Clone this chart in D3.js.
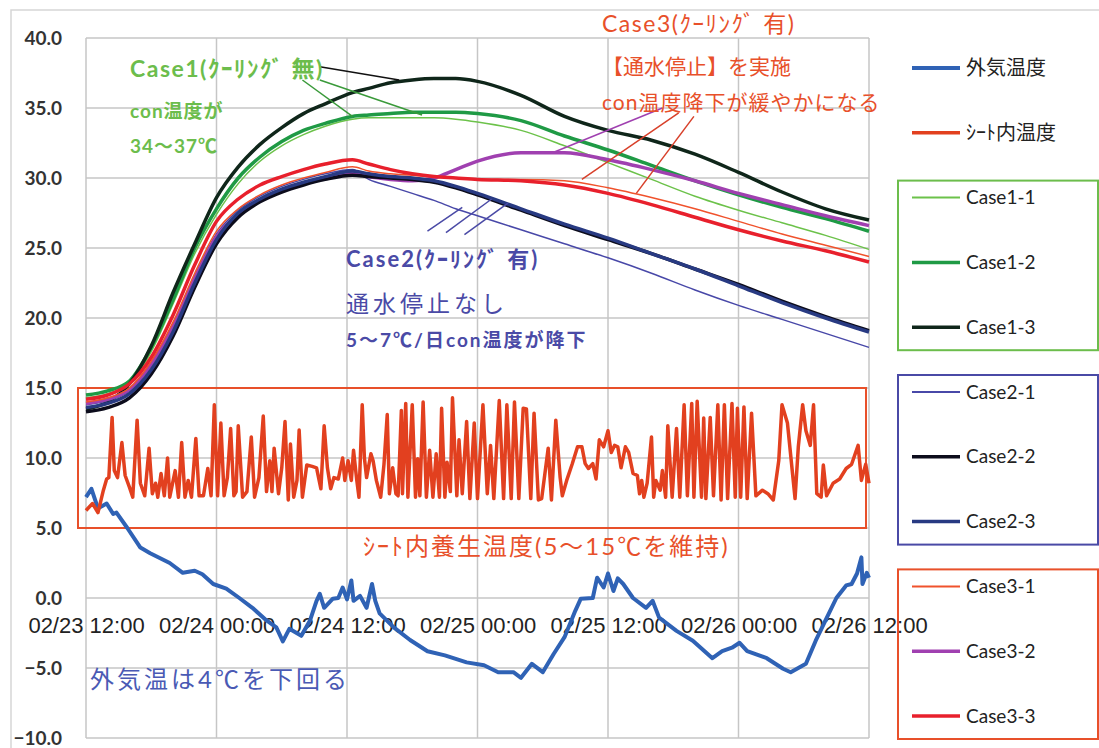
<!DOCTYPE html>
<html>
<head>
<meta charset="utf-8">
<script src="https://cdn.jsdelivr.net/npm/d3@7"></script>
<style>
  body { margin: 0; background: #fff; }
  svg { display: block; }
</style>
</head>
<body>
<svg id="chart" width="1099" height="748"></svg>
<script>
// ---- data (hours since 02/23 12:00) ----
const xTickHours = [0, 12, 24, 36, 48, 60, 72];
const xTickLabels = ["02/23 12:00", "02/24 00:00", "02/24 12:00", "02/25 00:00", "02/25 12:00", "02/26 00:00", "02/26 12:00"];
const yTicks = [-10, -5, 0, 5, 10, 15, 20, 25, 30, 35, 40];

// 外気温度
const outsideHours = [0, 0.5, 1.1, 1.9, 2.5, 2.8, 3.8, 5.0, 5.9, 7.7, 8.9, 10.0, 10.7, 11.7, 12.9, 14.1, 15.3, 16.6, 17.5, 18.1, 18.7, 19.8, 20.6, 21.2, 21.5, 21.9, 22.7, 23.2, 23.6, 24.0, 24.4, 24.6, 25.2, 25.8, 26.3, 26.6, 27.0, 28.3, 29.8, 31.4, 33.0, 35.0, 36.6, 37.9, 39.3, 40.0, 41.0, 42.0, 43.0, 44.0, 45.0, 45.5, 46.6, 47.0, 47.6, 48.0, 48.5, 48.9, 49.4, 50.3, 51.5, 52.1, 52.7, 54.3, 55.8, 57.6, 58.5, 59.4, 60.1, 60.8, 62.6, 64.1, 64.8, 66.2, 67.1, 68.0, 69.0, 69.9, 70.4, 70.9, 71.3, 71.4, 71.8, 72.0];
const outsideTemp = [7.2, 7.8, 6.4, 6.75, 6.0, 6.1, 5.0, 3.6, 3.2, 2.5, 1.8, 1.95, 1.7, 1.0, 0.67, 0.0, -0.7, -1.6, -2.1, -3.1, -2.2, -2.7, -1.6, -0.2, 0.3, -0.7, -0.05, 0.0, 0.75, -0.1, 1.25, -0.2, 0.15, -0.7, 1.0, -0.2, -1.1, -2.1, -3.0, -3.8, -4.1, -4.6, -4.8, -5.3, -5.3, -5.7, -4.7, -5.3, -4.0, -2.8, -0.9, -0.05, 0.0, 1.45, 0.75, 1.75, 0.5, 1.4, 1.0, 0.0, -0.7, -0.2, -1.4, -2.35, -3.05, -4.3, -3.8, -3.55, -3.2, -3.8, -4.3, -5.05, -5.3, -4.7, -3.05, -1.6, 0.0, 0.9, 1.0, 1.75, 2.9, 1.0, 1.8, 1.45];

// シート内温度
const sheetHours = [0, 0.6, 1.1, 1.6, 1.9, 2.1, 2.4, 2.6, 2.9, 3.3, 3.6, 4.0, 4.3, 4.7, 5.0, 5.4, 5.8, 6.1, 6.4, 6.6, 6.9, 7.2, 7.5, 7.7, 8.2, 8.5, 8.8, 9.1, 9.4, 9.7, 10.1, 10.4, 10.8, 11.2, 11.5, 11.8, 12.1, 12.4, 12.7, 13.0, 13.3, 13.6, 13.8, 14.0, 14.4, 14.8, 15.2, 15.5, 15.9, 16.3, 16.6, 16.9, 17.1, 17.3, 17.7, 18.0, 18.3, 18.6, 18.8, 19.1, 19.4, 19.6, 19.9, 20.3, 20.8, 21.2, 21.6, 21.9, 22.2, 22.5, 22.8, 23.2, 23.6, 23.8, 24.1, 24.4, 24.6, 24.9, 25.1, 25.4, 25.6, 25.8, 26.2, 26.4, 26.7, 27.1, 27.4, 27.7, 27.9, 28.2, 28.5, 28.7, 29.0, 29.1, 29.4, 29.6, 30.0, 30.3, 30.5, 30.7, 31.0, 31.3, 31.6, 31.9, 32.2, 32.5, 32.7, 33.0, 33.2, 33.5, 33.7, 34.1, 34.3, 34.6, 35.0, 35.3, 35.7, 36.0, 36.5, 36.9, 37.2, 37.5, 38.0, 38.4, 38.7, 39.1, 39.4, 39.8, 40.2, 40.5, 40.9, 41.2, 41.6, 41.9, 42.5, 42.8, 43.2, 43.6, 43.8, 44.2, 44.7, 45.2, 45.6, 45.9, 46.2, 46.6, 46.9, 47.2, 47.6, 48.0, 48.3, 48.6, 48.9, 49.2, 49.6, 49.9, 50.3, 50.7, 50.9, 51.1, 51.3, 51.6, 52.0, 52.2, 52.4, 52.8, 53.0, 53.3, 53.5, 53.9, 54.3, 54.6, 55.0, 55.3, 55.7, 55.9, 56.2, 56.6, 56.8, 57.0, 57.4, 57.7, 58.1, 58.4, 58.7, 59.0, 59.4, 59.7, 59.9, 60.2, 60.5, 60.8, 61.2, 61.6, 62.2, 62.7, 63.2, 63.7, 64.0, 64.5, 65.2, 65.5, 65.9, 66.2, 66.6, 66.9, 67.2, 67.6, 67.8, 68.1, 68.7, 69.3, 69.9, 70.4, 71.0, 71.3, 71.7, 72.0];
const sheetTemp = [6.25, 6.75, 6.1, 7.7, 8.5, 8.6, 12.9, 9.1, 8.6, 11.1, 8.75, 7.9, 7.2, 12.7, 8.2, 7.3, 10.7, 7.45, 8.2, 7.2, 8.9, 7.3, 10.0, 7.2, 9.1, 7.2, 11.1, 7.2, 8.4, 7.2, 11.4, 7.3, 7.3, 9.25, 7.3, 13.8, 7.3, 12.5, 7.3, 8.6, 12.1, 7.3, 7.6, 12.3, 7.2, 7.6, 11.5, 7.2, 8.6, 13.0, 7.6, 9.8, 7.6, 10.7, 7.45, 9.3, 12.6, 7.0, 11.0, 7.2, 8.4, 12.0, 7.2, 9.5, 9.4, 9.3, 7.8, 12.3, 9.3, 7.8, 8.6, 8.5, 10.0, 8.4, 9.8, 8.4, 10.55, 8.4, 7.2, 13.8, 10.0, 8.6, 10.3, 9.8, 8.4, 7.2, 9.55, 13.1, 7.45, 9.3, 7.45, 7.3, 13.4, 7.45, 13.9, 7.2, 13.8, 7.2, 9.95, 7.3, 14.0, 7.2, 10.55, 7.2, 10.3, 7.2, 13.55, 7.2, 9.7, 7.6, 14.3, 7.3, 11.3, 7.45, 12.6, 7.1, 12.5, 7.1, 13.8, 7.45, 10.9, 7.1, 14.1, 7.1, 13.8, 7.1, 14.0, 7.1, 13.55, 13.5, 7.1, 13.2, 7.0, 7.1, 10.7, 7.0, 12.7, 8.6, 7.3, 8.4, 9.55, 10.8, 10.8, 9.6, 9.25, 9.6, 8.5, 11.3, 10.8, 11.95, 10.4, 10.9, 10.8, 9.3, 10.8, 10.4, 8.9, 8.75, 7.45, 8.4, 7.2, 8.2, 11.5, 7.2, 8.4, 7.7, 9.1, 7.2, 12.3, 7.2, 12.1, 7.2, 13.8, 7.3, 13.9, 7.2, 14.05, 7.2, 12.85, 7.1, 12.9, 7.3, 13.8, 7.0, 13.8, 7.1, 13.9, 7.2, 13.55, 7.2, 13.65, 7.1, 13.2, 7.3, 7.7, 7.45, 7.0, 9.8, 13.8, 12.5, 7.1, 10.8, 13.8, 11.95, 10.9, 13.8, 7.45, 7.2, 9.5, 7.3, 8.2, 8.5, 9.25, 9.55, 10.9, 8.4, 9.55, 8.2];

// concrete temperature per case
const caseHours = [0, 2, 4, 6, 8, 10, 12, 14, 16, 18, 20, 22, 24.5, 26, 28, 30, 32, 34, 36, 40, 44, 48, 52, 56, 60, 64, 68, 72];
const case1_1 = [14.3, 14.6, 15.3, 17.6, 21.0, 24.6, 27.4, 29.6, 31.2, 32.3, 33.1, 33.7, 34.2, 34.3, 34.3, 34.3, 34.3, 34.2, 34.0, 33.4, 32.3, 31.1, 29.9, 28.7, 27.7, 26.8, 25.9, 24.9];
const case1_2 = [14.5, 14.8, 15.5, 17.9, 21.3, 25.0, 27.8, 30.0, 31.5, 32.6, 33.4, 33.9, 34.4, 34.5, 34.6, 34.7, 34.7, 34.7, 34.6, 34.1, 33.0, 32.0, 30.9, 29.8, 28.8, 27.9, 27.1, 26.2];
const case1_3 = [13.5, 14.0, 15.3, 18.0, 21.8, 25.3, 28.6, 30.8, 32.4, 33.6, 34.6, 35.3, 36.1, 36.4, 36.8, 37.0, 37.1, 37.1, 36.9, 35.9, 34.4, 33.4, 32.7, 31.7, 30.4, 29.0, 27.8, 27.0];
const case2_1 = [13.8, 14.1, 14.8, 16.6, 19.4, 23.0, 26.0, 27.7, 28.7, 29.4, 29.9, 30.3, 30.6, 29.9, 29.4, 28.9, 28.4, 27.8, 27.3, 26.3, 25.3, 24.3, 23.2, 22.0, 20.9, 19.9, 18.9, 17.9];
const case2_2 = [13.3, 13.6, 14.3, 16.0, 18.7, 22.2, 25.3, 27.2, 28.3, 29.0, 29.5, 29.9, 30.2, 30.1, 30.0, 29.9, 29.7, 29.3, 28.8, 27.7, 26.6, 25.6, 24.6, 23.5, 22.4, 21.2, 20.1, 19.1];
const case2_3 = [13.6, 13.9, 14.6, 16.3, 19.0, 22.5, 25.6, 27.5, 28.5, 29.2, 29.7, 30.1, 30.5, 30.3, 30.1, 30.0, 29.8, 29.4, 28.9, 27.8, 26.7, 25.7, 24.6, 23.5, 22.3, 21.1, 20.0, 19.0];
const case3_1 = [14.0, 14.3, 15.0, 16.9, 19.7, 23.2, 26.2, 27.8, 28.8, 29.5, 30.0, 30.4, 30.8, 30.5, 30.3, 30.2, 30.1, 30.0, 29.9, 29.9, 29.8, 29.3, 28.6, 27.8, 26.9, 26.0, 25.2, 24.4];
const case3_2 = [13.9, 14.2, 14.9, 16.7, 19.4, 22.8, 25.8, 27.4, 28.4, 29.1, 29.6, 30.0, 30.4, 30.1, 29.9, 29.8, 30.0, 30.6, 31.2, 31.8, 31.8, 31.3, 30.6, 29.8, 28.9, 28.1, 27.3, 26.6];
const case3_3 = [14.2, 14.5, 15.3, 17.2, 20.2, 23.8, 26.9, 28.5, 29.5, 30.1, 30.6, 31.0, 31.3, 31.0, 30.6, 30.3, 30.1, 30.0, 29.9, 29.8, 29.5, 28.9, 28.1, 27.2, 26.3, 25.5, 24.8, 24.0];

const legendNames = ["外気温度", "ｼｰﾄ内温度", "Case1-1", "Case1-2", "Case1-3", "Case2-1", "Case2-2", "Case2-3", "Case3-1", "Case3-2", "Case3-3"];

// ---- styles ----
const styles = {
  "外気温度":   { color: "#2f62b5", width: 4 },
  "ｼｰﾄ内温度": { color: "#e2401f", width: 3.5 },
  "Case1-1": { color: "#6cc24a", width: 1.5 },
  "Case1-2": { color: "#1f9a45", width: 3.5 },
  "Case1-3": { color: "#0f261a", width: 3.5 },
  "Case2-1": { color: "#4848a8", width: 1.5 },
  "Case2-2": { color: "#0c0c1c", width: 3.5 },
  "Case2-3": { color: "#283a82", width: 3.5 },
  "Case3-1": { color: "#f0522c", width: 1.5 },
  "Case3-2": { color: "#a040b0", width: 3.5 },
  "Case3-3": { color: "#e8202c", width: 3.5 }
};
const GREEN = "#6cbd4c", BLUE = "#4a4aa6", RED = "#e8502a";
const JP = "Lato, 'Noto Sans CJK JP', sans-serif";

// ---- layout ----
const svg = d3.select("#chart");
const plot = { left: 86, right: 869, top: 38, bottom: 738 };

const x = d3.scaleLinear().domain([0, 72]).range([plot.left, plot.right]);
const y = d3.scaleLinear().domain([-10, 40]).range([plot.bottom, plot.top]);

// outer chart frame
svg.append("rect")
  .attr("x", 11).attr("y", 10).attr("width", 1110).attr("height", 760)
  .attr("fill", "none").attr("stroke", "#d6d6d6").attr("stroke-width", 1.5);

// gridlines
const grid = svg.append("g").attr("stroke", "#c6c6c6").attr("stroke-width", 1.5);
grid.selectAll("line.h").data(yTicks).join("line")
  .attr("class", "h")
  .attr("x1", plot.left).attr("x2", plot.right)
  .attr("y1", d => y(d)).attr("y2", d => y(d));
grid.selectAll("line.v").data(xTickHours).join("line")
  .attr("class", "v")
  .attr("x1", d => x(d)).attr("x2", d => x(d))
  .attr("y1", plot.top).attr("y2", plot.bottom);

// y axis labels
const yAxis = svg.append("g")
  .attr("transform", `translate(${plot.left},0)`)
  .call(d3.axisLeft(y).tickValues(yTicks).tickFormat(d3.format(".1f")).tickSize(0).tickPadding(24));
yAxis.select(".domain").remove();
yAxis.selectAll("text")
  .style("font-family", "Lato, sans-serif").style("font-size", "19px").style("font-weight", "bold")
  .attr("fill", "#333");

// x axis labels sit on the 0.0 line
const xAxis = svg.append("g")
  .attr("transform", `translate(0,${y(0)})`)
  .call(d3.axisBottom(x).tickValues(xTickHours).tickFormat((d, i) => xTickLabels[i]).tickSize(0).tickPadding(19));
xAxis.select(".domain").remove();
xAxis.selectAll("text")
  .style("font-family", "'Liberation Sans', Arial, sans-serif").style("font-size", "22px")
  .attr("fill", "#222");

// red box round sheet temperature (5~15)
svg.append("rect")
  .attr("x", plot.left - 8).attr("y", y(15))
  .attr("width", x(72) - plot.left + 5).attr("height", y(5) - y(15))
  .attr("fill", "none").attr("stroke", RED).attr("stroke-width", 2);

// ---- lines ----
const pairs = (hs, vs) => hs.map((h, i) => [h, vs[i]]);
const rough = d3.line().x(d => x(d[0])).y(d => y(d[1]));
const smooth = d3.line().x(d => x(d[0])).y(d => y(d[1])).curve(d3.curveMonotoneX);

const series = [
  { name: "外気温度", data: pairs(outsideHours, outsideTemp), gen: rough },
  { name: "ｼｰﾄ内温度", data: pairs(sheetHours, sheetTemp), gen: rough },
  { name: "Case1-1", data: pairs(caseHours, case1_1), gen: smooth },
  { name: "Case1-2", data: pairs(caseHours, case1_2), gen: smooth },
  { name: "Case1-3", data: pairs(caseHours, case1_3), gen: smooth },
  { name: "Case2-1", data: pairs(caseHours, case2_1), gen: smooth },
  { name: "Case3-2", data: pairs(caseHours, case3_2), gen: smooth },
  { name: "Case2-2", data: pairs(caseHours, case2_2), gen: smooth },
  { name: "Case2-3", data: pairs(caseHours, case2_3), gen: smooth },
  { name: "Case3-1", data: pairs(caseHours, case3_1), gen: smooth },
  { name: "Case3-3", data: pairs(caseHours, case3_3), gen: smooth }
];

svg.append("g").selectAll("path").data(series).join("path")
  .attr("d", d => d.gen(d.data))
  .attr("fill", "none")
  .attr("stroke", d => styles[d.name].color)
  .attr("stroke-width", d => styles[d.name].width)
  .attr("stroke-linejoin", "round");

// ---- annotations ----
// leader lines, ends given as [hour, value]
const leaders = [
  { from: [21.5, 37.95], to: [28.8, 37.0], color: "#111" },
  { from: [21.5, 37.0], to: [30.9, 34.5], color: "#3a9a3a" },
  { from: [19.9, 37.0], to: [24.5, 34.4], color: "#3a9a3a" },
  { from: [53.0, 35.0], to: [42.9, 31.8], color: "#a040b0" },
  { from: [54.5, 34.65], to: [45.6, 29.9], color: "#d8402a" },
  { from: [55.9, 34.4], to: [50.6, 28.9], color: "#d8402a" },
  { from: [31.4, 26.2], to: [34.6, 27.9], color: BLUE },
  { from: [33.1, 26.1], to: [37.3, 28.5], color: BLUE },
  { from: [34.8, 25.95], to: [38.8, 28.2], color: BLUE }
];
svg.append("g").selectAll("line").data(leaders).join("line")
  .attr("x1", d => x(d.from[0])).attr("y1", d => y(d.from[1]))
  .attr("x2", d => x(d.to[0])).attr("y2", d => y(d.to[1]))
  .attr("stroke", d => d.color).attr("stroke-width", 1.5);

const notes = [
  { text: "Case1(ｸｰﾘﾝｸﾞ 無)", x: 130, y: 77, size: 23, ls: 1.5, color: GREEN, weight: "bold" },
  { text: "con温度が", x: 130, y: 118, size: 19, ls: 1, color: GREEN, weight: "bold" },
  { text: "34～37℃", x: 130, y: 153, size: 19, ls: 1, color: GREEN, weight: "bold" },
  { text: "Case3(ｸｰﾘﾝｸﾞ 有)", x: 602, y: 32, size: 23, ls: 1.5, color: RED, weight: "normal" },
  { text: "【通水停止】を実施", x: 602, y: 74, size: 21, ls: 0, color: RED, weight: "normal" },
  { text: "con温度降下が緩やかになる", x: 602, y: 110, size: 21, ls: 1, color: RED, weight: "normal" },
  { text: "Case2(ｸｰﾘﾝｸﾞ 有)", x: 346, y: 267, size: 22, ls: 2, color: BLUE, weight: "bold" },
  { text: "通水停止なし", x: 346, y: 312, size: 23, ls: 4, color: BLUE, weight: "normal" },
  { text: "5～7℃/日con温度が降下", x: 346, y: 347, size: 19, ls: 2, color: BLUE, weight: "bold" },
  { text: "ｼｰﾄ内養生温度(5～15℃を維持)", x: 363, y: 555, size: 24, ls: 2, color: RED, weight: "normal" },
  { text: "外気温は4℃を下回る", x: 90, y: 688, size: 24, ls: 3, color: "#4a5ab4", weight: "normal" }
];
svg.append("g").selectAll("text").data(notes).join("text")
  .attr("x", d => d.x).attr("y", d => d.y)
  .attr("fill", d => d.color)
  .style("font-family", JP)
  .style("font-size", d => d.size + "px")
  .style("letter-spacing", d => d.ls + "px")
  .style("font-weight", d => d.weight)
  .text(d => d.text);

// ---- legend ----
const legendY = d3.scalePoint().domain(legendNames).range([68, 716]);
const legendGroups = [
  { names: ["Case1-1", "Case1-3"], color: GREEN },
  { names: ["Case2-1", "Case2-3"], color: BLUE },
  { names: ["Case3-1", "Case3-3"], color: RED }
];
svg.append("g").selectAll("rect").data(legendGroups).join("rect")
  .attr("x", 898)
  .attr("y", d => legendY(d.names[0]) - 17)
  .attr("width", 200)
  .attr("height", d => legendY(d.names[1]) - legendY(d.names[0]) + 40)
  .attr("fill", "none").attr("stroke", d => d.color).attr("stroke-width", 2);

const legend = svg.append("g").selectAll("g").data(legendNames).join("g")
  .attr("transform", d => `translate(0,${legendY(d)})`);
legend.append("line")
  .attr("x1", 912).attr("x2", 960)
  .attr("stroke", d => styles[d].color)
  .attr("stroke-width", d => Math.max(styles[d].width, 2));
legend.append("text")
  .attr("x", 966).attr("dy", "0.35em")
  .attr("fill", "#222")
  .style("font-family", JP)
  .style("font-size", d => d.startsWith("Case") ? "19px" : "20px")
  .text(d => d);
</script>
</body>
</html>
